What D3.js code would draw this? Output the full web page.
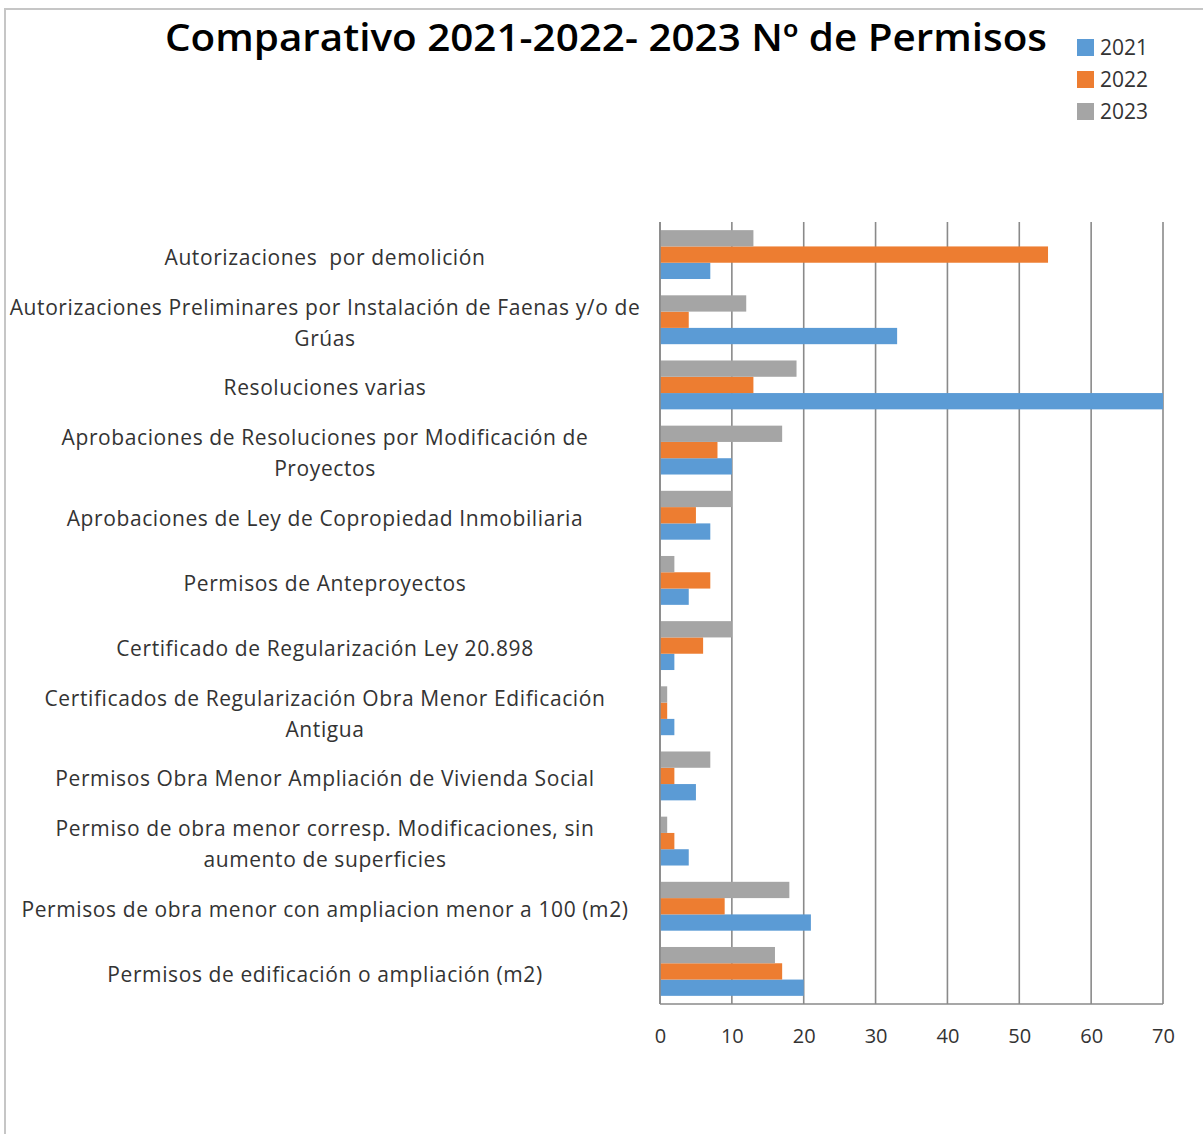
<!DOCTYPE html>
<html>
<head>
<meta charset="utf-8">
<script src="https://cdn.jsdelivr.net/npm/d3@7"></script>
<style>
  body { margin: 0; background: #fff; }
  svg { display: block; font-family: "Open Sans", "Noto Sans", sans-serif; }
</style>
</head>
<body>
<div id="chart"></div>
<script>
// categories, top to bottom as shown
const categories = [
  "Autorizaciones  por demolición",
  "Autorizaciones Preliminares por Instalación de Faenas y/o de\nGrúas",
  "Resoluciones varias",
  "Aprobaciones de Resoluciones por Modificación de\nProyectos",
  "Aprobaciones de Ley de Copropiedad Inmobiliaria",
  "Permisos de Anteproyectos",
  "Certificado de Regularización Ley 20.898",
  "Certificados de Regularización Obra Menor Edificación\nAntigua",
  "Permisos Obra Menor Ampliación de Vivienda Social",
  "Permiso de obra menor corresp. Modificaciones, sin\naumento de superficies",
  "Permisos de obra menor con ampliacion menor a 100 (m2)",
  "Permisos de edificación o ampliación (m2)"
];
const years = ["2021", "2022", "2023"];
const v2021 = [7, 33, 70, 10, 7, 4, 2, 2, 5, 4, 21, 20];
const v2022 = [54, 4, 13, 8, 5, 7, 6, 1, 2, 2, 9, 17];
const v2023 = [13, 12, 19, 17, 10, 2, 10, 1, 7, 1, 18, 16];
const xTicks = [0, 10, 20, 30, 40, 50, 60, 70];

const W = 1203, H = 1134;
const plot = {left: 660, right: 1163, top: 222, bottom: 1004};
const colors = {"2021": "#5b9bd5", "2022": "#ed7d31", "2023": "#a5a5a5"};
const textColor = "#333";

const svg = d3.select("#chart").append("svg")
  .attr("width", W).attr("height", H);

// frame
svg.append("path")
  .attr("d", `M5,${H} L5,9 L${W},9`)
  .attr("fill", "none").attr("stroke", "#c6c6c6").attr("stroke-width", 2);

const x = d3.scaleLinear().domain([0, 70]).range([plot.left, plot.right]);
const y = d3.scaleBand().domain(categories).range([plot.top, plot.bottom])
  .paddingInner(0.25).paddingOuter(0.125);
const ySub = d3.scaleBand().domain(["2023", "2022", "2021"]).range([0, y.bandwidth()]);

// gridlines
svg.append("g")
  .selectAll("line")
  .data(xTicks)
  .join("line")
    .attr("x1", d => x(d)).attr("x2", d => x(d))
    .attr("y1", plot.top).attr("y2", plot.bottom)
    .attr("stroke", "#8a8a8a").attr("stroke-width", 1.6);

const rows = categories.map((c, i) => ({c, vals: {"2021": v2021[i], "2022": v2022[i], "2023": v2023[i]}}));

svg.append("g")
  .selectAll("g")
  .data(rows)
  .join("g")
    .attr("transform", d => `translate(0,${y(d.c)})`)
  .selectAll("rect")
  .data(d => years.map(yr => ({yr, v: d.vals[yr]})))
  .join("rect")
    .attr("x", x(0))
    .attr("y", d => ySub(d.yr))
    .attr("width", d => x(d.v) - x(0))
    .attr("height", ySub.bandwidth())
    .attr("fill", d => colors[d.yr]);

// axes lines
svg.append("line")
  .attr("x1", x(0)).attr("x2", x(0)).attr("y1", plot.top).attr("y2", plot.bottom)
  .attr("stroke", "#8a8a8a").attr("stroke-width", 1.6);
svg.append("line")
  .attr("x1", x(0)).attr("x2", x(70)).attr("y1", plot.bottom).attr("y2", plot.bottom)
  .attr("stroke", "#8a8a8a").attr("stroke-width", 1.6);

// x axis tick labels
const xAxis = svg.append("g")
  .attr("transform", `translate(0,${plot.bottom})`)
  .call(d3.axisBottom(x).tickValues(xTicks).tickSize(0).tickPadding(25));
xAxis.select(".domain").remove();
xAxis.selectAll("text")
  .attr("font-size", 20).attr("fill", textColor)
  .attr("font-family", "\"Open Sans\", sans-serif");

// category labels
const labelFont = 21, lineH = 31;
const labels = svg.append("g")
  .selectAll("text")
  .data(categories)
  .join("text")
    .attr("x", 325)
    .attr("text-anchor", "middle")
    .attr("font-size", labelFont)
    .attr("letter-spacing", 0.6)
    .attr("fill", textColor)
    .style("white-space", "pre");
labels.each(function(d) {
  const lines = d.split("\n");
  const cy = y(d) + y.bandwidth() / 2 + 3;
  const t = d3.select(this);
  lines.forEach((ln, j) => {
    t.append("tspan")
      .attr("x", 325)
      .attr("y", cy + (j - (lines.length - 1) / 2) * lineH)
      .attr("dy", "0.35em")
      .text(ln);
  });
});

// title
svg.append("text")
  .attr("x", 606).attr("y", 51)
  .attr("text-anchor", "middle")
  .attr("font-size", 37).attr("font-weight", 600)
  .attr("fill", "#000")
  .attr("textLength", 882).attr("lengthAdjust", "spacingAndGlyphs")
  .text("Comparativo 2021-2022- 2023 Nº de Permisos");

// legend
const legend = svg.append("g")
  .selectAll("g")
  .data(years)
  .join("g")
    .attr("transform", (d, i) => `translate(1077,${47 + i * 32})`);
legend.append("rect")
  .attr("x", 0).attr("y", -8).attr("width", 17).attr("height", 17)
  .attr("fill", d => colors[d]);
legend.append("text")
  .attr("x", 23).attr("y", 1).attr("dy", "0.35em")
  .attr("font-size", 21).attr("fill", textColor)
  .text(d => d);
</script>
</body>
</html>
